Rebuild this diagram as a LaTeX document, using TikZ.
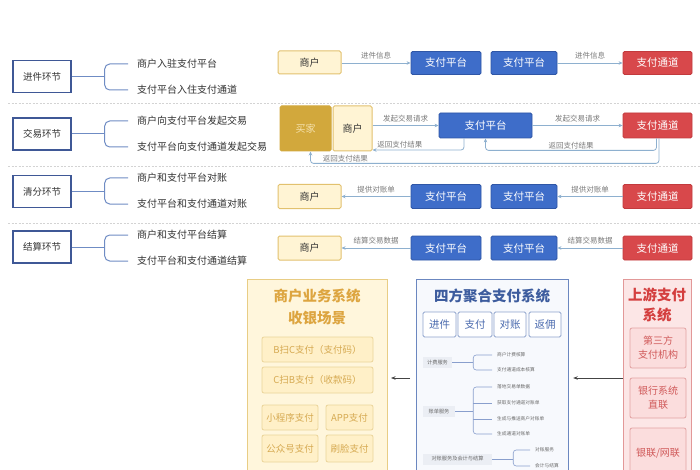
\documentclass[tikz,border=0pt]{standalone}
\usepackage{fontspec}
\setmainfont{Noto Sans CJK SC}
\usetikzlibrary{arrows.meta}
\definecolor{lbord}{HTML}{3F5896}
\definecolor{lline}{HTML}{6F8CC4}
\definecolor{ctext}{HTML}{333333}
\definecolor{merfill}{HTML}{FFF4D4}
\definecolor{merbord}{HTML}{E2C16E}
\definecolor{buyfill}{HTML}{D2A83C}
\definecolor{buytext}{HTML}{F5E2AE}
\definecolor{blufill}{HTML}{3E6DC9}
\definecolor{bluebord}{HTML}{2F56A6}
\definecolor{redfill}{HTML}{D8484B}
\definecolor{redbord}{HTML}{C23A3D}
\definecolor{arr}{HTML}{8EB0CF}
\definecolor{albl}{HTML}{7A7A7A}
\definecolor{sepc}{HTML}{D3D3D3}
\definecolor{msfill}{HTML}{FFF6DC}
\definecolor{msbord}{HTML}{E8CD85}
\definecolor{mstitle}{HTML}{DDA540}
\definecolor{msin}{HTML}{FFF0C8}
\definecolor{msinb}{HTML}{EBD49A}
\definecolor{msintext}{HTML}{D6AA52}
\definecolor{midfill}{HTML}{F7F9FD}
\definecolor{midbord}{HTML}{6B87C0}
\definecolor{midtitle}{HTML}{3D5C9E}
\definecolor{midin}{HTML}{8EA3CC}
\definecolor{midintext}{HTML}{4A6AAE}
\definecolor{svcfill}{HTML}{EBEEF4}
\definecolor{svctext}{HTML}{6A6A6A}
\definecolor{upfill}{HTML}{FCE6E6}
\definecolor{upbord}{HTML}{E29898}
\definecolor{uptitle}{HTML}{D43F3F}
\definecolor{upin}{HTML}{FBDDDD}
\definecolor{upinb}{HTML}{E3A3A3}
\definecolor{upintext}{HTML}{D05A5A}
\definecolor{bigarrc}{HTML}{444444}
\tikzset{
  stagebox/.style={draw=lbord, line width=1.4pt, fill=white, minimum width=58pt, minimum height=32pt, inner sep=0pt, font=\fontsize{9.5}{11}\selectfont, text=ctext},
  item/.style={anchor=west, inner sep=0pt, font=\fontsize{10}{11}\selectfont, text=ctext},
  brk/.style={draw=lline, line width=1pt},
  merbox/.style={draw=merbord, fill=merfill, line width=1pt, rounded corners=1.5pt, inner sep=0pt, text=ctext, font=\fontsize{10}{11}\selectfont},
  buybox/.style={draw=buyfill, fill=buyfill, line width=1pt, rounded corners=1.5pt, inner sep=0pt, text=buytext, font=\fontsize{10}{11}\selectfont},
  blubox/.style={draw=bluebord, fill=blufill, line width=0.8pt, rounded corners=1.5pt, inner sep=0pt, text=white, font=\fontsize{10.5}{12}\selectfont},
  redbox/.style={draw=redbord, fill=redfill, line width=0.8pt, rounded corners=1.5pt, inner sep=0pt, text=white, font=\fontsize{10.5}{12}\selectfont},
  flow/.style={draw=arr, line width=0.8pt, -{Stealth[length=4pt,width=3.5pt]}},
  flowlbl/.style={font=\fontsize{7.5}{8}\selectfont, text=albl, inner sep=1pt},
  sepline/.style={draw=sepc, line width=0.6pt, dash pattern=on 2pt off 1.5pt},
  msin/.style={draw=msinb, fill=msin, line width=0.8pt, rounded corners=2pt, inner sep=0pt, text=msintext, font=\fontsize{9.5}{10}\selectfont},
  midin/.style={draw=midin, fill=white, line width=0.8pt, rounded corners=1.5pt, inner sep=0pt, text=midintext, font=\fontsize{10.5}{12}\selectfont},
  svc/.style={fill=svcfill, inner sep=0pt, text=svctext, font=\fontsize{5.2}{6}\selectfont},
  svcitem/.style={anchor=west, inner sep=0pt, text=svctext, font=\fontsize{4.7}{5}\selectfont},
  svcbrk/.style={draw=midbord!80, line width=0.6pt},
  upin/.style={draw=upinb, fill=upin, line width=0.8pt, rounded corners=2pt, inner sep=0pt, text=upintext, align=center, font=\fontsize{10}{14}\selectfont},
  bigarr/.style={draw=bigarrc, line width=0.7pt, -{Stealth[length=4.5pt,width=3.5pt]}}
}
\begin{document}
\begin{tikzpicture}[x=1pt,y=-1pt]
\clip (0,0) rectangle (700,470);
\fill[white] (0,0) rectangle (700,470);

% separators
\draw[sepline] (8,103) -- (700,103);
\draw[sepline] (8,166) -- (700,166);
\draw[sepline] (8,223) -- (700,223);

% ---------- left stages ----------
\node[stagebox] (s1) at (42,76.5) {进件环节};
\node[item] (s1a) at (137,64) {商户入驻支付平台};
\node[item] (s1b) at (137,90) {支付平台入住支付通道};
\node[stagebox] (s2) at (42,134) {交易环节};
\node[item] (s2a) at (137,121) {商户向支付平台发起交易};
\node[item] (s2b) at (137,147) {支付平台向支付通道发起交易};
\node[stagebox] (s3) at (42,191.5) {清分环节};
\node[item] (s3a) at (137,178) {商户和支付平台对账};
\node[item] (s3b) at (137,204) {支付平台和支付通道对账};
\node[stagebox] (s4) at (42,247) {结算环节};
\node[item] (s4a) at (137,235) {商户和支付平台结算};
\node[item] (s4b) at (137,261) {支付平台和支付通道结算};
\foreach \s in {s1,s2,s3,s4}{
  \draw[brk] (\s.east) -- ++(33,0);
  \draw[brk, rounded corners=5pt] ([xshift=-9pt]\s a.west) -| ([xshift=33pt]\s.east) |- ([xshift=-9pt]\s b.west);
}

% ---------- row 1 ----------
\node[merbox, minimum width=63pt, minimum height=23pt] (m1) at (309.5,62.5) {商户};
\node[blubox, minimum width=70pt, minimum height=23pt] (p1a) at (446,63) {支付平台};
\node[blubox, minimum width=66pt, minimum height=23pt] (p1b) at (524,63) {支付平台};
\node[redbox, minimum width=69pt, minimum height=23pt] (c1) at (657.5,63) {支付通道};
\draw[flow] (m1.east |- p1a) -- node[flowlbl, above=2pt] {进件信息} (p1a.west);
\draw[flow] (p1b.east) -- node[flowlbl, above=2pt] {进件信息} (c1.west);

% ---------- row 2 ----------
\node[buybox, minimum width=51pt, minimum height=45pt] (b2) at (305.5,128.5) {买家};
\node[merbox, minimum width=39pt, minimum height=45pt] (m2) at (352.5,128.5) {商户};
\node[blubox, minimum width=93pt, minimum height=25pt] (p2) at (485.5,125.5) {支付平台};
\node[redbox, minimum width=69pt, minimum height=25pt] (c2) at (657.5,125.5) {支付通道};
\draw[flow] (m2.east |- p2) -- node[flowlbl, above=2pt] {发起交易请求} (p2.west);
\draw[flow] (p2.east) -- node[flowlbl, above=2pt] {发起交易请求} (c2.west);
\coordinate (r1) at (464,150);
\draw[flow, rounded corners=3pt] (p2.south -| r1) -- (r1) -- node[flowlbl, above, pos=0.7] {返回支付结果} (m2.east |- r1);
\draw[flow, rounded corners=3pt] ([xshift=-1pt]c2.south) -- ++(0,12) -| node[flowlbl, above, pos=0.25] {返回支付结果} (p2.south);
\draw[flow, rounded corners=3pt] ([xshift=1.5pt]c2.south) -- ++(0,25) -| node[flowlbl, above, pos=0.45] {返回支付结果} ([xshift=5pt]b2.south);

% ---------- row 3 ----------
\node[merbox, minimum width=63pt, minimum height=24pt] (m3) at (309.5,196.5) {商户};
\node[blubox, minimum width=70pt, minimum height=24pt] (p3a) at (446,196.5) {支付平台};
\node[blubox, minimum width=66pt, minimum height=24pt] (p3b) at (524,196.5) {支付平台};
\node[redbox, minimum width=69pt, minimum height=24pt] (c3) at (657.5,196.5) {支付通道};
\draw[flow] (p3a.west) -- node[flowlbl, above=2pt] {提供对账单} (m3.east);
\draw[flow] (c3.west) -- node[flowlbl, above=2pt] {提供对账单} (p3b.east);

% ---------- row 4 ----------
\node[merbox, minimum width=63pt, minimum height=24pt] (m4) at (309.5,248) {商户};
\node[blubox, minimum width=70pt, minimum height=24pt] (p4a) at (446,248) {支付平台};
\node[blubox, minimum width=66pt, minimum height=24pt] (p4b) at (524,248) {支付平台};
\node[redbox, minimum width=69pt, minimum height=24pt] (c4) at (657.5,248) {支付通道};
\draw[flow] (p4a.west) -- node[flowlbl, above=2pt] {结算交易数据} (m4.east);
\draw[flow] (c4.west) -- node[flowlbl, above=2pt] {结算交易数据} (p4b.east);

% ---------- bottom: merchant system ----------
\node[draw=msbord, fill=msfill, line width=1pt, minimum width=140pt, minimum height=205pt, anchor=north west, inner sep=0pt] (ms) at (247,279) {};
\node[text=mstitle, font=\fontsize{14.5}{16}\bfseries\selectfont] (mst1) at (317,296) {商户业务系统};
\node[text=mstitle, font=\fontsize{14.5}{16}\bfseries\selectfont] (mst2) at (317,318) {收银场景};
\node[msin, minimum width=111pt, minimum height=25pt] (ms1) at (317.5,349.5) {B扫C支付（支付码）};
\node[msin, minimum width=111pt, minimum height=26pt] (ms2) at (317.5,380) {C扫B支付（收款码）};
\node[msin, minimum width=56pt, minimum height=25pt] (ms3) at (290,417.5) {小程序支付};
\node[msin, minimum width=47pt, minimum height=25pt] (ms4) at (349.5,417.5) {APP支付};
\node[msin, minimum width=56pt, minimum height=27pt] (ms5) at (290,448.5) {公众号支付};
\node[msin, minimum width=47pt, minimum height=27pt] (ms6) at (349.5,448.5) {刷脸支付};

% ---------- bottom: aggregator ----------
\node[draw=midbord, fill=midfill, line width=1.2pt, minimum width=152pt, minimum height=205pt, anchor=north west, inner sep=0pt] (mid) at (416,279) {};
\node[text=midtitle, font=\fontsize{14.5}{16}\bfseries\selectfont] (midt) at (492,296) {四方聚合支付系统};
\node[midin, minimum width=33pt, minimum height=25pt] (f1) at (439.5,324.5) {进件};
\node[midin, minimum width=34pt, minimum height=25pt] (f2) at (475,324.5) {支付};
\node[midin, minimum width=32pt, minimum height=25pt] (f3) at (510,324.5) {对账};
\node[midin, minimum width=32pt, minimum height=25pt] (f4) at (545,324.5) {返佣};

\node[svc, minimum width=29pt, minimum height=11pt] (v1) at (437.5,362.5) {计费服务};
\node[svcitem] (v1a) at (497,355) {商户计费核算};
\node[svcitem] (v1b) at (497,370) {支付通道成本核算};
\draw[svcbrk] (v1.east) -- ++(21,0);
\draw[svcbrk, rounded corners=3pt] ([xshift=-5pt]v1a.west) -| ([xshift=21pt]v1.east) |- ([xshift=-5pt]v1b.west);

\node[svc, minimum width=32pt, minimum height=11pt] (v2) at (439,411.5) {账单服务};
\node[svcitem] (v2a) at (497,387) {落地交易单数据};
\node[svcitem] (v2b) at (497,403) {获取支付通道对账单};
\node[svcitem] (v2c) at (497,419) {生成与推送商户对账单};
\node[svcitem] (v2d) at (497,434) {生成通道对账单};
\draw[svcbrk] (v2.east) -- ++(18,0);
\draw[svcbrk, rounded corners=3pt] ([xshift=-5pt]v2a.west) -| ([xshift=18pt]v2.east) |- ([xshift=-5pt]v2d.west);
\draw[svcbrk] ([xshift=18pt]v2.east |- v2b) -- ([xshift=-5pt]v2b.west);
\draw[svcbrk] ([xshift=18pt]v2.east |- v2c) -- ([xshift=-5pt]v2c.west);

\node[svc, minimum width=69pt, minimum height=11pt] (v3) at (457.5,459) {对账服务及会计与结算};
\node[svcitem] (v3a) at (535,450) {对账服务};
\node[svcitem] (v3b) at (535,466) {会计与结算};
\draw[svcbrk] (v3.east) -- ++(21,0);
\draw[svcbrk, rounded corners=3pt] ([xshift=-5pt]v3a.west) -| ([xshift=21pt]v3.east) |- ([xshift=-5pt]v3b.west);

% ---------- bottom: upstream ----------
\node[draw=upbord, fill=upfill, line width=1.2pt, minimum width=68pt, minimum height=205pt, anchor=north west, inner sep=0pt] (up) at (623,279) {};
\node[text=uptitle, font=\fontsize{14.5}{16}\bfseries\selectfont] (upt1) at (657,295) {上游支付};
\node[text=uptitle, font=\fontsize{14.5}{16}\bfseries\selectfont] (upt2) at (657,315) {系统};
\node[upin, minimum width=56pt, minimum height=40pt] (u1) at (658,348) {第三方\\支付机构};
\node[upin, minimum width=56pt, minimum height=40pt] (u2) at (658,398) {银行系统\\直联};
\node[upin, minimum width=56pt, minimum height=50pt] (u3) at (658,453) {银联/网联};

% ---------- bottom arrows ----------
\coordinate (ay) at (0,378);
\draw[bigarr, shorten >=4pt] (up.west |- ay) -- (mid.east |- ay);
\draw[bigarr, shorten <=6pt, shorten >=3pt] (mid.west |- ay) -- (ms.east |- ay);
\end{tikzpicture}
\end{document}
